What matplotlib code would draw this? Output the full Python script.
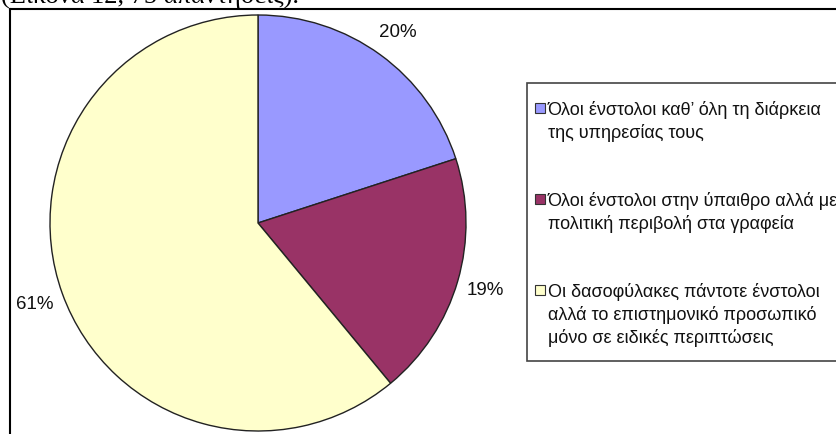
import matplotlib.pyplot as plt
from matplotlib.patches import Rectangle
from matplotlib.lines import Line2D

# Δεδομένα
categorias = [
    "Όλοι ένστολοι καθ’ όλη τη διάρκεια\nτης υπηρεσίας τους",
    "Όλοι ένστολοι στην ύπαιθρο αλλά με\nπολιτική περιβολή στα γραφεία",
    "Οι δασοφύλακες πάντοτε ένστολοι\nαλλά το επιστημονικό προσωπικό\nμόνο σε ειδικές περιπτώσεις",
]
porcentajes = [20, 19, 61]
colores = ["#9999FF", "#993366", "#FFFFCC"]
titulo = "(Εικόνα 12, 75 απαντήσεις)."

W, H = 837, 435
plt.rcParams['font.family'] = ['Liberation Sans', 'DejaVu Sans']

fig = plt.figure(figsize=(W / 100, H / 100), dpi=100)
fig.patch.set_facecolor('white')

def fx(px):
    return px / W

def fy(py):
    return 1 - py / H

# Texto cortado arriba (como en la captura)
fig.text(fx(1), fy(3), titulo, family=['Liberation Serif'],
         fontsize=19, va='baseline', ha='left')

# Marco del gráfico
fig.add_artist(Line2D([fx(10), fx(10)], [fy(10), fy(440)], color='black', lw=1.5))
fig.add_artist(Line2D([fx(10), fx(840)], [fy(10), fy(10)], color='black', lw=1.5))

# Pastel
cx, cy, r = 258, 224, 208
ax = fig.add_axes([fx(cx - r), fy(cy + r), 2 * r / W, 2 * r / H])
ax.pie(porcentajes, colors=colores, startangle=90, counterclock=False,
       autopct='%1.0f%%', pctdistance=1.14,
       wedgeprops=dict(edgecolor='#222222', linewidth=1),
       textprops=dict(fontsize=13.5, color='#111111'))
ax.set_xlim(-1, 1)
ax.set_ylim(-1, 1)
ax.set_aspect('equal')
ax.axis('off')

# Leyenda manual
fig.add_artist(Rectangle((fx(527), fy(362)), fx(340), (362 - 84) / H,
                         facecolor='white', edgecolor='#444444', lw=1.2))
bases = [115, 206, 297]
interlinea = 23
for texto, color, y in zip(categorias, colores, bases):
    fig.add_artist(Rectangle((fx(535), fy(y - 1)), 10 / W, 10 / H,
                             facecolor=color, edgecolor='#333333', lw=0.8))
    for i, linea in enumerate(texto.split('\n')):
        fig.text(fx(548), fy(y + i * interlinea), linea, fontsize=13,
                 va='baseline', ha='left', color='#111111')

fig.savefig('out.png', dpi=100)
